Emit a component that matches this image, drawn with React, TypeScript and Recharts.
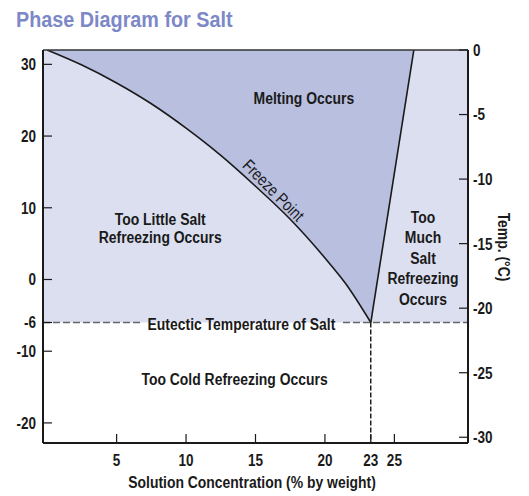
import React from "react";
import {
  ComposedChart,
  Area,
  Line,
  XAxis,
  YAxis,
  ReferenceLine,
  ReferenceDot,
  Customized,
} from "recharts";

// ---- data ----
const concentration = [0, 2.5, 5, 7.5, 10, 12.5, 15, 17.5, 20, 21.5, 23.3, 26.4];
const freezePointF: (number | null)[] = [32, 29.9, 27.4, 24.5, 21.1, 17.3, 13.0, 8.4, 3.0, -0.6, -6, null];
const solubilityF: (number | null)[] = [null, null, null, null, null, null, null, null, null, null, -6, 32];

const TOP_F = 32;
const EUTECTIC_F = -6;
const EUTECTIC_X = 23.3;
const BOTTOM_F = -22.8;
const X_MIN = -0.3;
const X_MAX = 30.3;

const xTicks = [5, 10, 15, 20, 23.3, 25];
const leftTicks = [30, 20, 10, 0, -6, -10, -20];
const rightTicks = [0, -5, -10, -15, -20, -25, -30];

const eutecticGapLeft = 6.7;
const eutecticGapRight = 21.3;

const title = "Phase Diagram for Salt";
const xTitle = "Solution Concentration (% by weight)";
const rightTitle = "Temp. (°C)";

const seriesRows = concentration.map((x, i) => ({
  x,
  band: [EUTECTIC_F, TOP_F],
  melt: freezePointF[i] != null ? [freezePointF[i], TOP_F] : null,
  tri: solubilityF[i] != null ? [solubilityF[i], TOP_F] : null,
  freeze: freezePointF[i],
  sol: solubilityF[i],
}));
const edgeRows = [X_MIN, X_MAX].map((x) => ({
  x,
  band: [EUTECTIC_F, TOP_F],
  melt: null,
  tri: null,
  freeze: null,
  sol: null,
}));
const data = [...edgeRows, ...seriesRows].sort((a, b) => a.x - b.x);

const SANS = "'Liberation Sans', Arial, Helvetica, sans-serif";
const SX = 0.82;
const LIGHT = "#dcdff0";
const DARK = "#b9bfdf";
const INK = "#1a1a1a";

type NProps = {
  x: number;
  y: number;
  lines: string[];
  lineHeight?: number;
  anchor?: "start" | "middle" | "end";
  size?: number;
  weight?: string | number;
  rotate?: number;
  dy?: string;
  baseline?: string;
  sx?: number;
  fill?: string;
};

const NText = ({
  x,
  y,
  lines,
  lineHeight = 19,
  anchor = "middle",
  size = 17,
  weight = "bold",
  rotate = 0,
  dy,
  baseline,
  sx = SX,
  fill = INK,
}: NProps) => (
  <g transform={`translate(${x},${y}) rotate(${rotate}) scale(${sx},1)`}>
    <text
      x={0}
      y={0}
      textAnchor={anchor}
      dominantBaseline={baseline as any}
      fontFamily={SANS}
      fontSize={size}
      fontWeight={weight}
      fill={fill}
    >
      {lines.map((l, i) => (
        <tspan key={i} x={0} dy={i === 0 ? dy ?? 0 : lineHeight}>
          {l}
        </tspan>
      ))}
    </text>
  </g>
);

const makeLabel =
  (lines: string[], lineHeight: number, weight: string | number = "bold") =>
  (props: any) =>
    <NText x={props.cx} y={props.cy} lines={lines} lineHeight={lineHeight} weight={weight} />;

const FreezeLabel = (props: any) => (
  <NText
    x={props.cx}
    y={props.cy}
    lines={["Freeze Point"]}
    weight="normal"
    rotate={45}
    baseline="central"
  />
);

const fmt = (v: number) => String(Math.round(v));

const XTick = (props: any) => (
  <NText x={props.x} y={props.y} lines={[fmt(props.payload.value)]} dy="0.71em" size={16.5} />
);
const LeftTick = (props: any) => (
  <NText x={props.x} y={props.y} lines={[fmt(props.payload.value)]} dy="0.36em" anchor="end" size={16.5} />
);
const RightTick = (props: any) => (
  <NText x={props.x} y={props.y} lines={[fmt(props.payload.value)]} dy="0.36em" anchor="start" size={16.5} />
);

const Annotations = () => (
  <g>
    <NText x={8} y={19} lines={[title]} anchor="start" size={22} sx={0.9} fill="#7d88c8" />
    <NText x={244} y={480} lines={[xTitle]} />
    <NText x={497} y={239} lines={[rightTitle]} rotate={90} baseline="central" />
  </g>
);

export default function App() {
  return (
    <ComposedChart
      width={513}
      height={488}
      data={data}
      margin={{ top: 42, right: 0, bottom: 0, left: 0 }}
    >
      <XAxis
        dataKey="x"
        type="number"
        domain={[X_MIN, X_MAX]}
        ticks={xTicks}
        interval={0}
        tickSize={-9}
        tickMargin={20}
        height={53}
        allowDataOverflow
        axisLine={{ stroke: INK, strokeWidth: 2 }}
        tickLine={{ stroke: INK, strokeWidth: 1.2 }}
        tick={<XTick />}
      />
      <YAxis
        yAxisId="f"
        type="number"
        domain={[BOTTOM_F, TOP_F]}
        ticks={leftTicks}
        interval={0}
        width={35}
        tickSize={-9}
        tickMargin={16}
        allowDataOverflow
        axisLine={{ stroke: INK, strokeWidth: 2 }}
        tickLine={{ stroke: INK, strokeWidth: 1.2 }}
        tick={<LeftTick />}
      />
      <YAxis
        yAxisId="c"
        orientation="right"
        type="number"
        domain={[(BOTTOM_F - 32) / 1.8, (TOP_F - 32) / 1.8]}
        ticks={rightTicks}
        interval={0}
        width={53}
        tickSize={-9}
        tickMargin={14}
        allowDataOverflow
        axisLine={{ stroke: INK, strokeWidth: 2 }}
        tickLine={{ stroke: INK, strokeWidth: 1.2 }}
        tick={<RightTick />}
      />

      <Area
        yAxisId="f"
        dataKey="band"
        type="linear"
        stroke="none"
        fill={LIGHT}
        fillOpacity={1}
        isAnimationActive={false}
        activeDot={false}
      />
      <Area
        yAxisId="f"
        dataKey="melt"
        type="monotone"
        stroke="none"
        fill={DARK}
        fillOpacity={1}
        isAnimationActive={false}
        activeDot={false}
      />
      <Area
        yAxisId="f"
        dataKey="tri"
        type="linear"
        stroke="none"
        fill={DARK}
        fillOpacity={1}
        isAnimationActive={false}
        activeDot={false}
      />
      <ReferenceLine
        yAxisId="f"
        segment={[
          { x: EUTECTIC_X, y: EUTECTIC_F + 1.2 },
          { x: EUTECTIC_X, y: TOP_F - 0.2 },
        ]}
        stroke={DARK}
        strokeWidth={1.6}
      />
      <Line
        yAxisId="f"
        dataKey="freeze"
        type="monotone"
        stroke={INK}
        strokeWidth={1.6}
        dot={false}
        activeDot={false}
        isAnimationActive={false}
      />
      <Line
        yAxisId="f"
        dataKey="sol"
        type="linear"
        stroke={INK}
        strokeWidth={1.6}
        dot={false}
        activeDot={false}
        isAnimationActive={false}
      />

      <ReferenceLine yAxisId="f" y={TOP_F} stroke="#333" strokeWidth={1.5} />
      <ReferenceLine
        yAxisId="f"
        segment={[
          { x: X_MIN, y: EUTECTIC_F },
          { x: eutecticGapLeft, y: EUTECTIC_F },
        ]}
        stroke="#666"
        strokeWidth={1.6}
        strokeDasharray="7 3"
      />
      <ReferenceLine
        yAxisId="f"
        segment={[
          { x: eutecticGapRight, y: EUTECTIC_F },
          { x: X_MAX, y: EUTECTIC_F },
        ]}
        stroke="#666"
        strokeWidth={1.6}
        strokeDasharray="7 3"
      />
      <ReferenceLine
        yAxisId="f"
        segment={[
          { x: EUTECTIC_X, y: EUTECTIC_F },
          { x: EUTECTIC_X, y: BOTTOM_F },
        ]}
        stroke="#000"
        strokeWidth={1.3}
        strokeDasharray="5 2"
      />

      <ReferenceDot yAxisId="f" x={18.48} y={24.5} r={0} shape={makeLabel(["Melting Occurs"], 19)} />
      <ReferenceDot yAxisId="f" x={8.14} y={7.6} r={0} shape={makeLabel(["Too Little Salt", "Refreezing Occurs"], 18.5)} />
      <ReferenceDot yAxisId="f" x={27.06} y={7.9} r={0} shape={makeLabel(["Too", "Much", "Salt", "Refreezing", "Occurs"], 20.5)} />
      <ReferenceDot yAxisId="f" x={13.49} y={-14.7} r={0} shape={makeLabel(["Too Cold Refreezing Occurs"], 19)} />
      <ReferenceDot yAxisId="f" x={13.99} y={-7.04} r={0} shape={makeLabel(["Eutectic Temperature of Salt"], 19)} />
      <ReferenceDot yAxisId="f" x={16.33} y={12.5} r={0} shape={FreezeLabel} />

      <Customized component={<Annotations />} />
    </ComposedChart>
  );
}
